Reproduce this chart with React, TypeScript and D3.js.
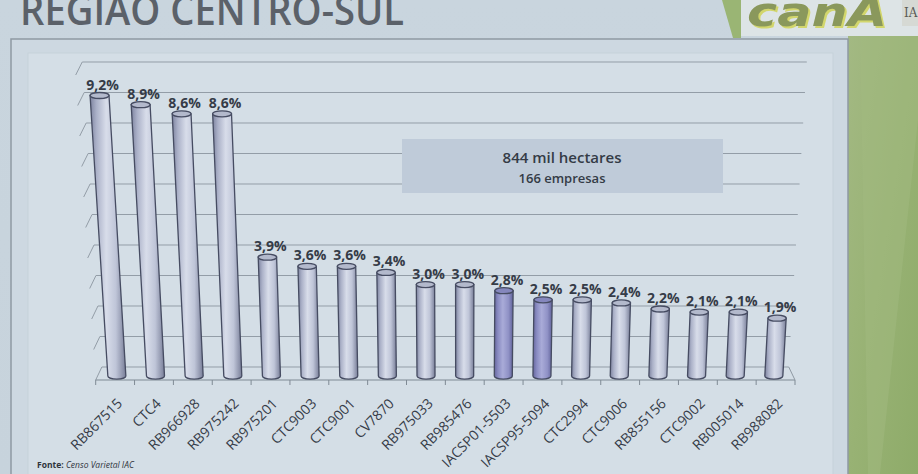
import React from 'react';
import * as d3 from 'd3';

const categories = ['RB867515', 'CTC4', 'RB966928', 'RB975242', 'RB975201', 'CTC9003', 'CTC9001', 'CV7870', 'RB975033', 'RB985476', 'IACSP01-5503', 'IACSP95-5094', 'CTC2994', 'CTC9006', 'RB855156', 'CTC9002', 'RB005014', 'RB988082'];
const values = [9.2, 8.9, 8.6, 8.6, 3.9, 3.6, 3.6, 3.4, 3.0, 3.0, 2.8, 2.5, 2.5, 2.4, 2.2, 2.1, 2.1, 1.9];
const highlighted = ['IACSP01-5503', 'IACSP95-5094'];
const gridTicks = [0, 1, 2, 3, 4, 5, 6, 7, 8, 9, 10];
const summaryLines = ['844 mil hectares', '166 empresas'];
const titleText = 'REGIAO CENTRO-SUL';
const sourceLabel = 'Fonte:';
const sourceText = 'Censo Varietal IAC';
const logoText = 'canA';

const W = 918;
const H = 474;

const FLOOR = 380;
const DEPTH = 13;
const VX = 445;
const SHRINK = 0.02;
const KX = 460;
const K = 1.8e-4;
const BAR_Z = 0.3;
const BAR_HW = 9;

const x = d3.scaleBand<string>().domain(categories).range([95.7, 795]).paddingInner(0).paddingOuter(0);
const y = d3.scaleLinear().domain([0, 10]).range([0, 305]);

function proj(px: number, v: number, z: number): [number, number] {
  const sy = FLOOR - DEPTH * z - y(v);
  const sx0 = VX + (px - VX) * (1 - SHRINK * z);
  const f = 1 + K * (FLOOR - sy);
  return [KX + (sx0 - KX) * f, sy];
}
function scaleAt(sy: number) {
  return 1 + K * (FLOOR - sy);
}

const fmt = (v: number) => v.toFixed(1).replace('.', ',') + '%';

export default function App() {
  const [x0, x1] = x.range();
  const fontLabel = "'Open Sans', 'DejaVu Sans', sans-serif";

  const bars = categories.map((c, i) => {
    const cx = (x(c) as number) + x.bandwidth() / 2;
    const v = values[i];
    const b = proj(cx, 0, BAR_Z);
    const t = proj(cx, v, BAR_Z);
    const hb = BAR_HW * scaleAt(b[1]);
    const ht = BAR_HW * scaleAt(t[1]);
    const ry = 3;
    const d = `M${t[0] - ht},${t[1]} L${b[0] - hb},${b[1]} A${hb},${ry} 0 0 0 ${b[0] + hb},${b[1]} L${t[0] + ht},${t[1]} Z`;
    const hi = highlighted.includes(c);
    return { c, v, b, t, ht, ry, d, hi, cx };
  });

  const ticks = [...categories.map((c) => x(c) as number), x1];

  return (
    <svg width={W} height={H} style={{ position: 'absolute', left: 0, top: 0, display: 'block' }} xmlns="http://www.w3.org/2000/svg">
      <defs>
        <linearGradient id="barG" x1="0" x2="1" y1="0" y2="0">
          <stop offset="0" stopColor="#7e84a0" />
          <stop offset="0.18" stopColor="#abb1c8" />
          <stop offset="0.45" stopColor="#d8ddea" />
          <stop offset="0.72" stopColor="#bfc5d8" />
          <stop offset="1" stopColor="#787e98" />
        </linearGradient>
        <linearGradient id="barP" x1="0" x2="1" y1="0" y2="0">
          <stop offset="0" stopColor="#66669e" />
          <stop offset="0.2" stopColor="#8a8cc2" />
          <stop offset="0.45" stopColor="#a9abd8" />
          <stop offset="0.75" stopColor="#9092c6" />
          <stop offset="1" stopColor="#60629a" />
        </linearGradient>
        <linearGradient id="greenG" x1="0" x2="1" y1="0" y2="1">
          <stop offset="0" stopColor="#a3b983" />
          <stop offset="0.5" stopColor="#98b274" />
          <stop offset="1" stopColor="#8eab69" />
        </linearGradient>
        <linearGradient id="bgG" x1="0" x2="0" y1="0" y2="1">
          <stop offset="0" stopColor="#c9d5de" />
          <stop offset="1" stopColor="#c7d3dc" />
        </linearGradient>
        <filter id="logoShadow" x="-10%" y="-10%" width="130%" height="140%">
          <feDropShadow dx="2" dy="2" stdDeviation="0.4" floodColor="#d2d66c" floodOpacity="1" />
        </filter>
      </defs>

      {/* slide background */}
      <rect x={0} y={0} width={W} height={H} fill="url(#bgG)" />
      {/* green band right */}
      <rect x={848} y={36} width={70} height={H - 36} fill="url(#greenG)" />
      <polygon points="860,36 918,36 918,120 880,474 868,474" fill="#a2ba80" opacity={0.5} />

      {/* logo area */}
      <rect x={740} y={-2} width={178} height={38} fill="#dde4e6" />
      <polygon points="722,0 741,0 741,38 733,38" fill="#9ab574" />
      <text x={747} y={26} fontFamily="'DejaVu Sans', sans-serif" fontWeight={700} fontStyle="italic" fontSize={40} fill="#8a985c" textLength={140} lengthAdjust="spacingAndGlyphs" filter="url(#logoShadow)">{logoText}</text>
      <rect x={902} y={0} width={16} height={26} fill="#d6d9d4" />
      <text x={904} y={17} fontFamily="'DejaVu Serif', serif" fontSize={12} fill="#5a5a55">IA</text>

      {/* title */}
      <text x={20} y={25} fontFamily="'Open Sans', sans-serif" fontWeight={600} fontSize={42} fill="#5b6169" textLength={384} lengthAdjust="spacingAndGlyphs">{titleText}</text>

      {/* chart frame */}
      <rect x={11} y={39} width={837} height={445} fill="#cdd8e1" stroke="#8e99a3" strokeWidth={1.5} />
      <rect x={28} y={53} width={805} height={440} fill="#d4dee6" stroke="#c6d1da" strokeWidth={1} />

      {/* back wall gridlines */}
      {gridTicks.map((v) => {
        const a = proj(x0, v, 1);
        const b = proj(x1, v, 1);
        const f = proj(x0, v, 0);
        return (
          <g key={'g' + v}>
            <line x1={a[0]} y1={a[1]} x2={b[0]} y2={b[1]} stroke="#939da7" strokeWidth={1} />
            <line x1={f[0]} y1={f[1]} x2={a[0]} y2={a[1]} stroke="#939da7" strokeWidth={1} />
          </g>
        );
      })}
      {/* floor */}
      {(() => {
        const fl = proj(x0, 0, 0);
        const fr = proj(x1, 0, 0);
        const br = proj(x1, 0, 1);
        return (
          <g>
            <line x1={fl[0]} y1={fl[1]} x2={fr[0]} y2={fr[1]} stroke="#7f8a94" strokeWidth={1} />
            <line x1={fr[0]} y1={fr[1]} x2={br[0]} y2={br[1]} stroke="#8f99a3" strokeWidth={1} />
          </g>
        );
      })()}
      {ticks.map((t, i) => {
        const p = proj(t, 0, 0);
        return <line key={'t' + i} x1={p[0]} y1={p[1]} x2={p[0]} y2={p[1] + 5} stroke="#7f8a94" strokeWidth={1} />;
      })}

      {/* summary box */}
      <rect x={402} y={139} width={321} height={54} fill="#bfcbd9" />
      <text x={562} y={163} textAnchor="middle" fontFamily={fontLabel} fontWeight={600} fontSize={15} fill="#343b46">{summaryLines[0]}</text>
      <text x={562} y={183} textAnchor="middle" fontFamily={fontLabel} fontWeight={600} fontSize={13} fill="#343b46">{summaryLines[1]}</text>

      {/* bars */}
      {bars.map((bar) => (
        <g key={bar.c}>
          <path d={bar.d} fill={bar.hi ? 'url(#barP)' : 'url(#barG)'} stroke="#464c62" strokeWidth={1.3} />
          <ellipse cx={bar.t[0]} cy={bar.t[1]} rx={bar.ht} ry={bar.ry} fill={bar.hi ? '#8587bd' : '#b3b9cc'} stroke="#464c62" strokeWidth={1.3} />
          <text x={bar.t[0] + 3} y={bar.t[1] - 6} textAnchor="middle" fontFamily={fontLabel} fontWeight={700} fontSize={14} fill="#363c48">{fmt(bar.v)}</text>
        </g>
      ))}

      {/* category labels */}
      {bars.map((bar) => {
        const p = proj(bar.cx, 0, 0);
        const ax = p[0] + 4.5;
        const ay = 401;
        return (
          <text key={'l' + bar.c} x={ax} y={ay} dy="0.35em" textAnchor="end" transform={`rotate(-45 ${ax} ${ay})`} fontFamily={fontLabel} fontSize={14} fill="#363c48">{bar.c}</text>
        );
      })}

      {/* source */}
      <text x={37} y={468} fontFamily={fontLabel} fontSize={8.5} fill="#2f343c">
        <tspan fontWeight={700}>{sourceLabel}</tspan>
        <tspan fontStyle="italic"> {sourceText}</tspan>
      </text>
    </svg>
  );
}
